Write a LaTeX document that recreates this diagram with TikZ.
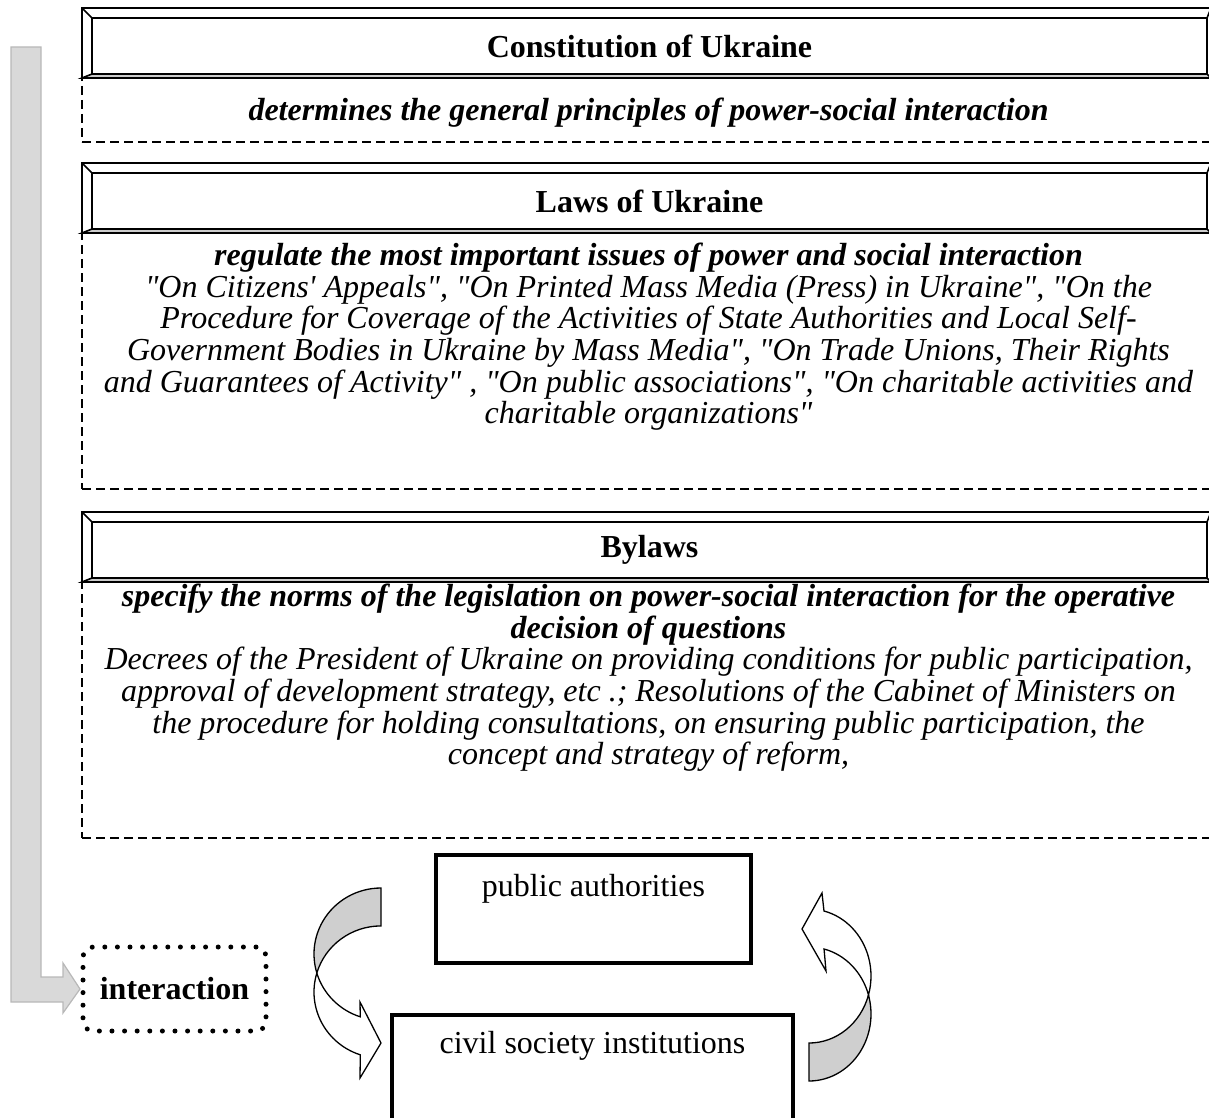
\documentclass[tikz,border=0pt]{standalone}
\usepackage{fontspec}
\setmainfont{Liberation Serif}[Ligatures=TeXOff]
\usepackage{tikz}
\usetikzlibrary{positioning,calc}

\begin{document}
\begin{tikzpicture}[
    x=1pt, y=1pt,
    headbox/.style={draw, line width=1.6pt, minimum width=1115pt, minimum height=56pt,
                    inner sep=0pt, outer sep=0pt, font=\fontsize{32pt}{31.6pt}\selectfont\bfseries},
    bevel/.style={line width=1.6pt},
    frame/.style={draw, dash pattern=on 9pt off 5pt, line width=2.2pt, minimum width=1133pt,
                  anchor=north west, inner sep=0pt, outer sep=0pt},
    note/.style={align=center, inner sep=0pt, font=\fontsize{32pt}{31.6pt}\selectfont\itshape},
    bodybox/.style={draw, line width=3.8pt, inner sep=0pt, outer sep=0pt, anchor=north west,
                    font=\fontsize{32pt}{31.6pt}\selectfont},
    dotbox/.style={draw, line width=5pt, dash pattern=on 0pt off 12.6pt, line cap=round,
                   rounded corners=10pt, minimum width=183pt, minimum height=84pt, outer sep=0pt,
                   font=\fontsize{32pt}{31.6pt}\selectfont\bfseries},
    bigarrow/.style={draw=black!28, fill=black!15, line width=1.2pt},
    grayband/.style={draw, fill=black!19, line width=1.3pt},
    whiteband/.style={draw, fill=white, line width=1.3pt},
  ]
  \useasboundingbox (0,0) rectangle (1209,-1118);
  \clip (0,0) rectangle (1209,-1118);

  % Constitution
  \node[headbox] (const) at (649.5,-46) {Constitution of Ukraine};
  \filldraw[bevel, fill=black!20] (const.south west) -- (const.south east) -- ++(4,-4)
    -- ([shift={(-10,-4)}]const.south west) -- cycle;
  \draw[bevel] ([shift={(-10,-4)}]const.south west) -- ([shift={(-10,10)}]const.north west)
    -- ([shift={(4,10)}]const.north east) -- ([shift={(4,-4)}]const.south east)
    (const.north west) -- ++(-10,10) (const.north east) -- ++(4,10);
  \node[frame, minimum height=64pt] (constbox) at ([shift={(-10,-4)}]const.south west) {};
  \node[note, font=\fontsize{32pt}{31.6pt}\selectfont\bfseries\itshape] (constnote)
    at ([yshift=-3pt]constbox.center) {determines the general principles of power-social interaction};

  % Laws
  \node[headbox] (laws) at (649.5,-201) {Laws of Ukraine};
  \filldraw[bevel, fill=black!20] (laws.south west) -- (laws.south east) -- ++(4,-4)
    -- ([shift={(-10,-4)}]laws.south west) -- cycle;
  \draw[bevel] ([shift={(-10,-4)}]laws.south west) -- ([shift={(-10,10)}]laws.north west)
    -- ([shift={(4,10)}]laws.north east) -- ([shift={(4,-4)}]laws.south east)
    (laws.north west) -- ++(-10,10) (laws.north east) -- ++(4,10);
  \node[frame, minimum height=256pt] (lawsbox) at ([shift={(-10,-4)}]laws.south west) {};
  \node[note, below=10pt of lawsbox.north] (lawsnote) {%
    \textbf{regulate the most important issues of power and social interaction}\\
    "On Citizens' Appeals", "On Printed Mass Media (Press) in Ukraine", "On the\\
    Procedure for Coverage of the Activities of State Authorities and Local Self-\\
    Government Bodies in Ukraine by Mass Media", "On Trade Unions, Their Rights\\
    and Guarantees of Activity" , "On public associations", "On charitable activities and\\
    charitable organizations"};

  % Bylaws
  \node[headbox] (bylaws) at (649.5,-550) {Bylaws};
  \filldraw[bevel, fill=black!20] (bylaws.south west) -- (bylaws.south east) -- ++(4,-4)
    -- ([shift={(-10,-4)}]bylaws.south west) -- cycle;
  \draw[bevel] ([shift={(-10,-4)}]bylaws.south west) -- ([shift={(-10,10)}]bylaws.north west)
    -- ([shift={(4,10)}]bylaws.north east) -- ([shift={(4,-4)}]bylaws.south east)
    (bylaws.north west) -- ++(-10,10) (bylaws.north east) -- ++(4,10);
  \node[frame, minimum height=256pt] (bylawsbox) at ([shift={(-10,-4)}]bylaws.south west) {};
  \node[note, below=2pt of bylawsbox.north] (bylawsnote) {%
    \textbf{specify the norms of the legislation on power-social interaction for the operative}\\
    \textbf{decision of questions}\\
    Decrees of the President of Ukraine on providing conditions for public participation,\\
    approval of development strategy, etc .; Resolutions of the Cabinet of Ministers on\\
    the procedure for holding consultations, on ensuring public participation, the\\
    concept and strategy of reform,};

  % Interaction
  \node[dotbox] (interaction) at (174.5,-989) {interaction};
  \node[bodybox, text height=41pt, text depth=67pt, minimum width=315pt] (authorities)
    at (436,-855) {public authorities};
  \node[bodybox, text height=38pt, text depth=90pt, minimum width=401pt] (society)
    at (392,-1015) {civil society institutions};

  \coordinate (bartop) at (26,-47);
  \draw[bigarrow] ($(bartop)+(-15,0)$) -- ($(bartop)+(15,0)$) |- ($(interaction.west)+(-20,12)$)
    -- ++(0,14) -- ($(interaction.west)+(-3,0)$) -- ++(-17,-24) -- ++(0,11)
    -- ($(bartop)+(-15,-955)$) -- cycle;

  % authorities -> society
  \begin{scope}[shift={(381,-954)}]
    \filldraw[grayband] (0,66) arc[start angle=90, end angle=196.7, x radius=67, y radius=66]
      arc[start angle=163.3, end angle=90, x radius=67, y radius=66] -- cycle;
    \filldraw[whiteband] (-64.2,-19) arc[start angle=196.7, end angle=252, x radius=67, y radius=66]
      -- (-21,-48) -- (0,-89) -- (-21,-124) -- (-20.7,-100.8)
      arc[start angle=252, end angle=163.3, x radius=67, y radius=66] -- cycle;
  \end{scope}
  % society -> authorities
  \begin{scope}[shift={(809,-976)}]
    \filldraw[grayband] (0,-105) arc[start angle=-90, end angle=16.47, x radius=62, y radius=67]
      arc[start angle=-16.47, end angle=-90, x radius=62, y radius=67] -- cycle;
    \filldraw[whiteband] (59.5,-19) arc[start angle=16.47, end angle=76, x radius=62, y radius=67]
      -- (17,5) -- (-7,47) -- (13,83) -- (15,65)
      arc[start angle=76, end angle=-16.47, x radius=62, y radius=67] -- cycle;
  \end{scope}
\end{tikzpicture}
\end{document}
